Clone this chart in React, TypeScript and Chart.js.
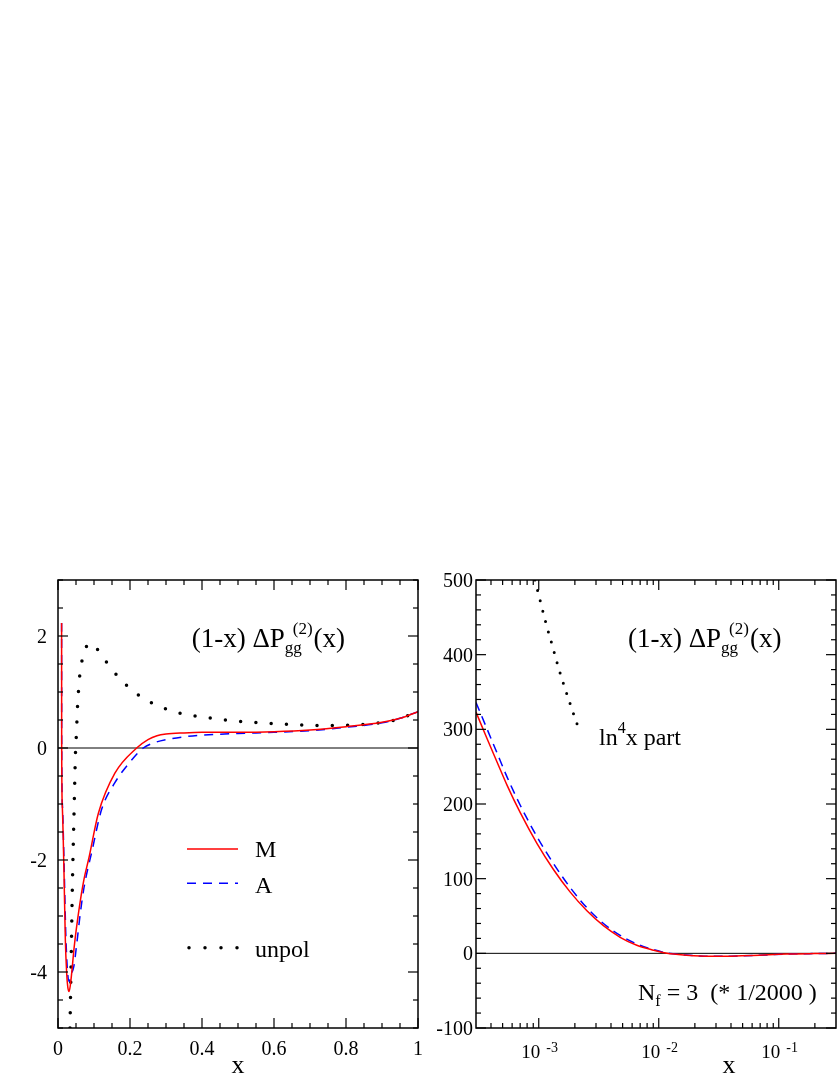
import React, { useEffect, useRef } from "react";
import { Chart, registerables } from "chart.js";

Chart.register(...registerables);

const FONT = '"Liberation Serif", "Times New Roman", serif';

// ---------- Left panel data (linear x) ----------
const leftMX = [0.0100, 0.0102, 0.0120, 0.0167, 0.0204, 0.0241, 0.0272, 0.0306, 0.0340, 0.0380, 0.0450, 0.0580, 0.0720, 0.0860, 0.1120, 0.1580, 0.2185, 0.2500, 0.2750, 0.3000, 0.3500, 0.4000, 0.5000, 0.6000, 0.7000, 0.8000, 0.9000, 0.9500, 1.0000];
const leftMY = [2.23, 0.10, -1.05, -2.24, -3.43, -4.02, -4.27, -4.35, -4.25, -4.02, -3.55, -2.90, -2.35, -1.96, -1.17, -0.45, 0.00, 0.15, 0.22, 0.25, 0.27, 0.28, 0.28, 0.29, 0.32, 0.38, 0.46, 0.53, 0.65];

const leftAX = [0.0100, 0.0103, 0.0125, 0.0175, 0.0215, 0.0260, 0.0310, 0.0360, 0.0440, 0.0520, 0.0620, 0.0720, 0.0940, 0.1210, 0.1580, 0.2000, 0.2370, 0.2700, 0.3000, 0.3500, 0.4000, 0.5000, 0.6000, 0.7000, 0.8000, 0.9000, 0.9500, 1.0000];
const leftAY = [2.23, 0.10, -1.05, -2.24, -3.30, -3.95, -4.17, -4.05, -3.90, -3.50, -2.95, -2.50, -1.85, -1.10, -0.62, -0.25, 0.00, 0.10, 0.15, 0.20, 0.23, 0.26, 0.28, 0.31, 0.37, 0.45, 0.53, 0.65];

const leftUX = [0.0333, 0.0370, 0.0398, 0.0444, 0.0490, 0.0510, 0.0528, 0.0546, 0.0574, 0.0611, 0.0685, 0.0780, 0.0880, 0.1000, 0.1170, 0.1420, 0.1690, 0.1990, 0.2340, 0.2710, 0.3120, 0.3530, 0.3940, 0.4800, 0.5650, 0.6510, 0.7350, 0.8200, 0.9060, 0.9480, 0.9900, 1.0000];
const leftUY = [-5.0, -3.61, -2.51, -1.20, 0.00, 0.23, 0.52, 0.79, 1.06, 1.34, 1.61, 1.80, 1.87, 1.84, 1.69, 1.47, 1.26, 1.07, 0.90, 0.77, 0.67, 0.60, 0.56, 0.49, 0.45, 0.42, 0.40, 0.41, 0.46, 0.52, 0.63, 0.66];

const leftXTicks = [0, 0.2, 0.4, 0.6, 0.8, 1];
const leftXTickLabels = ["0", "0.2", "0.4", "0.6", "0.8", "1"];
const leftYTicks = [-4, -2, 0, 2];
const leftYTickLabels = ["-4", "-2", "0", "2"];
const leftLegend = ["M", "A", "unpol"];

// ---------- Right panel data (log x) ----------
const rightX = [3.0e-4, 3.72e-4, 4.5e-4, 5.45e-4, 7.03e-4, 9.68e-4, 1.33e-3, 1.83e-3, 2.52e-3, 3.46e-3, 4.77e-3, 6.56e-3, 9.02e-3, 0.0117, 0.017, 0.0267, 0.040, 0.0608, 0.116, 0.2, 0.3];
const rightMY = [323, 287, 256, 225, 188, 147, 112, 82, 57, 37, 21.5, 10.8, 4.2, 0, -2.5, -4, -3.8, -3, -1, -0.3, 0];
const rightAY = [336, 300, 268, 236, 198, 156, 120, 88, 61, 40, 24, 12.5, 5, 0.5, -2.3, -4, -3.8, -3, -1, -0.3, 0];
const rightLnX = [9.3e-4, 9.87e-4, 1.16e-3, 1.305e-3, 1.46e-3, 1.67e-3, 1.91e-3, 2.2e-3];
const rightLnY = [500, 483.6, 439.5, 410.8, 382.5, 353, 325, 296.6];

const rightYTicks = [-100, 0, 100, 200, 300, 400, 500];
const rightYTickLabels = ["-100", "0", "100", "200", "300", "400", "500"];
const rightXTicks = [0.001, 0.01, 0.1];
const rightXTickExps = ["-3", "-2", "-1"];

const toPts = (xs: number[], ys: number[]) => xs.map((x, i) => ({ x, y: ys[i] }));

function txt(ctx: CanvasRenderingContext2D, s: string, x: number, y: number, size: number, align: CanvasTextAlign = "left") {
  ctx.font = `${size}px ${FONT}`;
  ctx.textAlign = align;
  ctx.textBaseline = "alphabetic";
  ctx.fillText(s, x, y);
  return ctx.measureText(s).width;
}

function seg(ctx: CanvasRenderingContext2D, x1: number, y1: number, x2: number, y2: number) {
  ctx.beginPath();
  ctx.moveTo(x1, y1);
  ctx.lineTo(x2, y2);
  ctx.stroke();
}

function drawTitle(ctx: CanvasRenderingContext2D, x: number, b: number) {
  const w = txt(ctx, "(1-x) \u0394P", x, b, 27);
  const xs = x + w;
  const wg = txt(ctx, "gg", xs, b + 6, 17);
  const w2 = txt(ctx, "(2)", xs + 8, b - 13, 17);
  const xe = Math.max(xs + wg, xs + 8 + w2) + 1;
  txt(ctx, "(x)", xe, b, 27);
}

function drawFrameTicks(chart: any, xMajor: number[], xMinor: number[], yMajor: number[], yMinor: number[]) {
  const { ctx, chartArea: a, scales } = chart;
  const sx = scales.x;
  const sy = scales.y;
  ctx.save();
  ctx.strokeStyle = "#000";
  ctx.lineWidth = 1.2;
  const tick = (vals: number[], len: number, isX: boolean) =>
    vals.forEach((v) => {
      if (isX) {
        const p = sx.getPixelForValue(v);
        seg(ctx, p, a.bottom, p, a.bottom - len);
        seg(ctx, p, a.top, p, a.top + len);
      } else {
        const p = sy.getPixelForValue(v);
        seg(ctx, a.left, p, a.left + len, p);
        seg(ctx, a.right, p, a.right - len, p);
      }
    });
  tick(xMajor, 10, true);
  tick(xMinor, 5, true);
  tick(yMajor, 10, false);
  tick(yMinor, 5, false);
  ctx.lineWidth = 1.5;
  ctx.strokeRect(a.left, a.top, a.right - a.left, a.bottom - a.top);
  ctx.restore();
}

function zeroLine(chart: any) {
  const { ctx, chartArea: a, scales } = chart;
  const p = scales.y.getPixelForValue(0);
  ctx.save();
  ctx.strokeStyle = "#000";
  ctx.lineWidth = 1;
  seg(ctx, a.left, p, a.right, p);
  ctx.restore();
}

function range(from: number, to: number, step: number, skip: number) {
  const out: number[] = [];
  for (let i = 0; from + i * step <= to + 1e-9; i++) {
    const v = +(from + i * step).toFixed(6);
    if (Math.abs(v / skip - Math.round(v / skip)) > 1e-6) out.push(v);
  }
  return out;
}

const leftDeco = {
  id: "leftDeco",
  beforeDatasetsDraw(chart: any) {
    zeroLine(chart);
  },
  afterDatasetsDraw(chart: any) {
    const { ctx, chartArea: a, scales } = chart;
    const x = scales.x;
    const y = scales.y;
    drawFrameTicks(chart, leftXTicks, range(0, 1, 0.05, 0.2), leftYTicks, range(-5, 3, 0.5, 2));
    ctx.save();
    ctx.fillStyle = "#000";
    leftYTicks.forEach((v, i) => txt(ctx, leftYTickLabels[i], 47, y.getPixelForValue(v) + 7, 20, "right"));
    leftXTicks.forEach((v, i) => txt(ctx, leftXTickLabels[i], x.getPixelForValue(v), 495, 20, "center"));
    txt(ctx, "x", (a.left + a.right) / 2, 513, 26, "center");
    drawTitle(ctx, 191.7, 87);
    // legend
    ctx.lineWidth = 1.5;
    ctx.strokeStyle = "#ff0000";
    seg(ctx, 187, 289, 238, 289);
    ctx.strokeStyle = "#0000ff";
    ctx.setLineDash([9, 7]);
    seg(ctx, 187, 323.3, 238, 323.3);
    ctx.strokeStyle = "#000";
    ctx.lineWidth = 3.5;
    ctx.lineCap = "round";
    ctx.setLineDash([0, 16]);
    seg(ctx, 189, 387.7, 239, 387.7);
    ctx.setLineDash([]);
    txt(ctx, leftLegend[0], 255, 297, 24);
    txt(ctx, leftLegend[1], 255, 332.7, 24);
    txt(ctx, leftLegend[2], 255, 396.7, 24);
    ctx.restore();
  },
};

function logMinors(min: number, max: number) {
  const out: number[] = [];
  for (let e = -5; e <= 1; e++) {
    for (let k = 2; k <= 9; k++) {
      const v = k * Math.pow(10, e);
      if (v > min * 1.0001 && v < max * 0.9999) out.push(v);
    }
  }
  return out;
}

const rightDeco = {
  id: "rightDeco",
  beforeDatasetsDraw(chart: any) {
    zeroLine(chart);
  },
  afterDatasetsDraw(chart: any) {
    const { ctx, scales } = chart;
    const x = scales.x;
    const y = scales.y;
    drawFrameTicks(chart, rightXTicks, logMinors(3e-4, 0.3), rightYTicks, range(-100, 500, 20, 100));
    ctx.save();
    ctx.fillStyle = "#000";
    rightYTicks.forEach((v, i) => txt(ctx, rightYTickLabels[i], 48, y.getPixelForValue(v) + 7, 20, "right"));
    rightXTicks.forEach((v, i) => {
      const p = x.getPixelForValue(v);
      txt(ctx, "10", p + 1.5, 498, 19, "right");
      txt(ctx, rightXTickExps[i], p + 7.5, 492, 14, "left");
    });
    txt(ctx, "x", 304, 513, 26, "center");
    drawTitle(ctx, 203, 87);
    // ln^4 x part
    let w = txt(ctx, "ln", 174, 185, 24);
    const w4 = txt(ctx, "4", 174 + w, 173, 16);
    txt(ctx, "x part", 174 + w + w4, 185, 24);
    // N_f = 3 (* 1/2000)
    w = txt(ctx, "N", 213, 440, 24);
    const wf = txt(ctx, "f", 213 + w, 446, 16);
    txt(ctx, " = 3  (* 1/2000 )", 213 + w + wf, 440, 24);
    ctx.restore();
  },
};

function baseOptions(pad: any, xScale: any, yScale: any) {
  return {
    responsive: false,
    maintainAspectRatio: false,
    animation: false as const,
    devicePixelRatio: 1,
    events: [] as any[],
    layout: { padding: pad },
    plugins: { legend: { display: false }, tooltip: { enabled: false } },
    elements: { point: { radius: 0 } },
    scales: { x: xScale, y: yScale },
  };
}

export default function App() {
  const leftRef = useRef<HTMLCanvasElement>(null);
  const rightRef = useRef<HTMLCanvasElement>(null);

  useEffect(() => {
    const left = new Chart(leftRef.current!, {
      type: "line",
      data: {
        datasets: [
          {
            label: "M",
            data: toPts(leftMX, leftMY),
            borderColor: "#ff0000",
            borderWidth: 1.5,
            cubicInterpolationMode: "monotone",
            pointRadius: 0,
          },
          {
            label: "A",
            data: toPts(leftAX, leftAY),
            borderColor: "#0000ff",
            borderWidth: 1.5,
            borderDash: [9, 7],
            cubicInterpolationMode: "monotone",
            pointRadius: 0,
          },
          {
            label: "unpol",
            data: toPts(leftUX, leftUY),
            borderColor: "#000000",
            borderWidth: 3.5,
            borderDash: [0, 15.3],
            borderCapStyle: "round",
            cubicInterpolationMode: "monotone",
            pointRadius: 0,
          },
        ],
      } as any,
      options: baseOptions(
        { left: 58, right: 7, top: 20, bottom: 58 },
        { type: "linear", min: 0, max: 1, display: false },
        { type: "linear", min: -5, max: 3, display: false }
      ) as any,
      plugins: [leftDeco],
    });

    const right = new Chart(rightRef.current!, {
      type: "line",
      data: {
        datasets: [
          {
            label: "M",
            data: toPts(rightX, rightMY),
            borderColor: "#ff0000",
            borderWidth: 1.5,
            cubicInterpolationMode: "monotone",
            pointRadius: 0,
          },
          {
            label: "A",
            data: toPts(rightX, rightAY),
            borderColor: "#0000ff",
            borderWidth: 1.5,
            borderDash: [9, 6],
            cubicInterpolationMode: "monotone",
            pointRadius: 0,
          },
          {
            label: "ln^4x part",
            data: toPts(rightLnX, rightLnY),
            borderColor: "#000000",
            borderWidth: 3,
            borderDash: [0, 10.7],
            borderCapStyle: "round",
            cubicInterpolationMode: "monotone",
            pointRadius: 0,
          },
        ],
      } as any,
      options: baseOptions(
        { left: 51, right: 3, top: 20, bottom: 58 },
        { type: "logarithmic", min: 3e-4, max: 0.3, display: false },
        { type: "linear", min: -100, max: 500, display: false }
      ) as any,
      plugins: [rightDeco],
    });

    return () => {
      left.destroy();
      right.destroy();
    };
  }, []);

  return (
    <div style={{ position: "absolute", left: 0, top: 0, width: 839, height: 1086, background: "#fff", overflow: "hidden" }}>
      <canvas
        ref={leftRef}
        width={425}
        height={526}
        style={{ position: "absolute", left: 0, top: 560, width: 425, height: 526 }}
      />
      <canvas
        ref={rightRef}
        width={414}
        height={526}
        style={{ position: "absolute", left: 425, top: 560, width: 414, height: 526 }}
      />
    </div>
  );
}
